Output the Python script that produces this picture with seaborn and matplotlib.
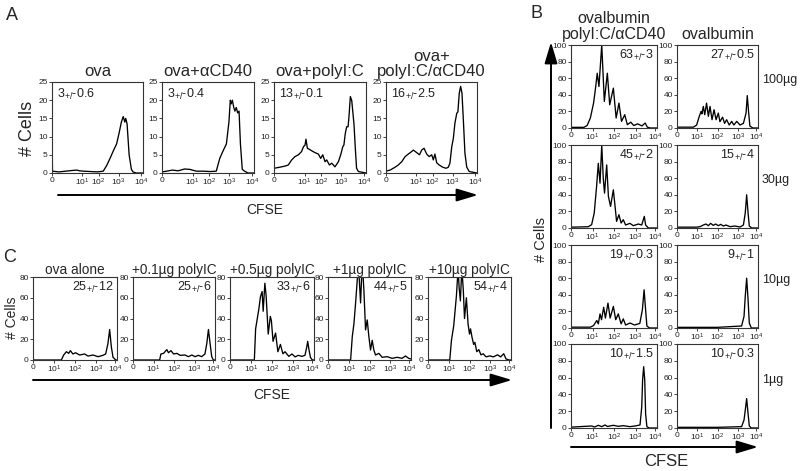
import numpy as np
import matplotlib
matplotlib.use("Agg")
import matplotlib.pyplot as plt
import seaborn as sns

# x values are in display decades (0 .. 4), y = # cells

# panel A
a_titles = ['ova', 'ova+αCD40', 'ova+polyI:C', 'ova+\npolyI:C/αCD40']
a_notes = ['3', '3', '13', '16']
a_errs = ['0.6', '0.4', '0.1', '2.5']
a_ova_x = [0, 0.02, 0.3, 0.6, 0.9, 1.1, 1.2, 1.4, 1.7, 2.0, 2.25, 2.40, 2.55, 2.69, 2.84, 2.95, 3.05, 3.13, 3.2, 3.24, 3.30, 3.39, 3.49, 3.56, 3.7, 4.0]
a_ova_y = [14, 0.5, 0.3, 0.5, 0.7, 0.8, 0.6, 0.5, 0.4, 0.3, 0.5, 2, 4, 6, 8, 11, 14, 15.5, 14, 15, 13.5, 5, 1, 0.3, 0, 0]
a_cd40_x = [0, 0.2, 0.45, 0.7, 0.98, 1.2, 1.5, 1.8, 2.1, 2.36, 2.51, 2.65, 2.80, 2.91, 2.97, 3.01, 3.06, 3.12, 3.17, 3.23, 3.29, 3.35, 3.41, 3.49, 3.59, 3.74, 4.0]
a_cd40_y = [0.3, 0.5, 0.8, 0.6, 1.1, 1.0, 0.5, 0.5, 0.4, 0.5, 4, 6, 8, 14, 20, 19, 20, 18, 17, 18, 16.5, 17, 8, 1, 0.5, 0, 0]
a_pic_x = [0, 0.26, 0.48, 0.62, 0.77, 0.91, 1.06, 1.2, 1.28, 1.35, 1.39, 1.45, 1.54, 1.64, 1.78, 1.93, 2.03, 2.12, 2.22, 2.29,
           2.41, 2.51, 2.65, 2.8, 2.9, 2.99, 3.04, 3.1, 3.16, 3.22, 3.26, 3.32, 3.38, 3.42, 3.48, 3.54, 3.59, 3.67, 4.0]
a_pic_y = [1.3, 1.6, 1.9, 2.2, 3.6, 4.5, 5, 5.9, 7.2, 7.7, 9.3, 6.8, 6.5, 6.1, 5.6, 5.2, 4, 5, 3.1, 3.6,
           2.2, 2.7, 1.7, 3.1, 5, 7.2, 7.7, 10.9, 12.7, 12.7, 15.5, 21, 19.9, 17.3, 13.2, 6.3, 1.3, 0.4, 0]
a_pcd_x = [0, 0.18, 0.40, 0.54, 0.69, 0.84, 0.98, 1.13, 1.2, 1.35, 1.47, 1.57, 1.67, 1.79, 1.9, 2.01, 2.08, 2.15, 2.23, 2.34,
           2.49, 2.64, 2.74, 2.81, 2.89, 2.96, 3.03, 3.11, 3.16, 3.22, 3.28, 3.34, 3.4, 3.47, 3.55, 3.66, 4.0]
a_pcd_y = [0.5, 0.8, 1.6, 2.2, 3.1, 4.5, 5.2, 5.9, 6.3, 5.6, 5, 6.3, 6.8, 5.2, 4.5, 5, 3.6, 5.2, 2.8, 2.2,
           1.6, 1.3, 1.6, 2.7, 7.2, 9.5, 13.7, 16.4, 16.8, 21.9, 23.8, 21.9, 14.6, 5.4, 1.6, 0.4, 0]
a_ticks = [0, 1.33, 2.05, 2.93, 3.93]

# panel C
c_titles = ['ova alone', '+0.1µg polyIC', '+0.5µg polyIC', '+1µg polyIC', '+10µg polyIC']
c_notes = ['25', '25', '33', '44', '54']
c_errs = ['12', '6', '6', '5', '4']
c_ova_x = [0, 1.35, 1.46, 1.59, 1.7, 1.78, 1.9, 2.03, 2.22, 2.46, 2.62, 2.86, 3.1, 3.33, 3.46, 3.57, 3.65, 3.73, 3.81, 3.94, 4.0]
c_ova_y = [0, 0, 4.8, 8, 6.4, 9, 5.8, 7, 4.8, 5.8, 3.8, 4.8, 3.2, 4.5, 5.8, 16, 29.4, 12.8, 2.6, 0, 0]
c_01_x = [0, 1.30, 1.36, 1.49, 1.65, 1.73, 1.85, 1.98, 2.14, 2.3, 2.54, 2.7, 2.87, 3.03, 3.19, 3.35, 3.51, 3.6, 3.68, 3.76, 3.84, 3.92, 4.0]
c_01_y = [0, 0, 5.8, 6.4, 10, 7, 9, 5.8, 6.4, 4.5, 4.8, 3.2, 4.8, 3.2, 4.5, 3.2, 5.8, 16, 29.4, 16, 3.2, 0, 0]
c_05_x = [0, 1.16, 1.22, 1.3, 1.38, 1.45, 1.53, 1.58, 1.66, 1.72, 1.82, 1.92, 1.97, 2.05, 2.17, 2.28, 2.4, 2.52, 2.62, 2.8,
          2.95, 3.1, 3.25, 3.42, 3.57, 3.65, 3.7, 3.76, 3.83, 3.92, 4.0]
c_05_y = [0, 0, 30, 40, 50, 61, 66, 47, 74, 62, 25, 42, 38, 18, 26, 8, 15, 6, 8, 3.5,
          5.8, 3, 4.5, 3.5, 4.5, 12, 18, 10, 2.5, 0, 0]
c_1_x = [0, 1.09, 1.17, 1.25, 1.33, 1.41, 1.46, 1.57, 1.65, 1.73, 1.81, 1.89, 1.97, 2.05, 2.13, 2.21, 2.29, 2.45, 2.61, 2.85, 3.09, 3.33, 3.57, 3.73, 3.89, 4.0]
c_1_y = [0, 0, 22.5, 35, 55, 77, 95, 55, 95, 67, 29, 38.6, 22.5, 9.6, 19, 9.6, 4.8, 6.4, 2.6, 3.2, 1.6, 2.6, 1.6, 3.9, 1.6, 1]
c_10_x = [0, 1.05, 1.13, 1.24, 1.37, 1.45, 1.5, 1.56, 1.63, 1.7, 1.76, 1.85, 1.93, 2.0, 2.05, 2.12, 2.2, 2.26, 2.35, 2.45,
          2.55, 2.66, 2.8, 2.98, 3.15, 3.35, 3.5, 3.65, 3.76, 3.9, 4.0]
c_10_y = [0, 0, 19, 33, 62, 88, 70, 57, 88, 68, 40, 60, 35, 25, 30, 22, 15, 17, 8, 10,
          5, 6, 3, 4, 3, 5, 3, 6, 1, 0, 0]

# panel B (left column polyI:C/αCD40, right column ovalbumin alone)
b_col_titles = ['ovalbumin\npolyI:C/αCD40', 'ovalbumin']
b_doses = ['100µg', '30µg', '10µg', '1µg']
b_notes_a = ['63', '45', '19', '10']
b_errs_a = ['3', '2', '0.3', '1.5']
b_notes_b = ['27', '15', '9', '10']
b_errs_b = ['0.5', '4', '1', '0.3']
b_r1a_x = [0, 0.6, 0.75, 0.9, 1.05, 1.15, 1.22, 1.3, 1.43, 1.55, 1.69, 1.8, 1.97, 2.1, 2.23, 2.35, 2.5, 2.62, 2.78, 2.92, 3.1, 3.3, 3.45, 3.55, 3.7, 4.0]
b_r1a_y = [0.8, 0.8, 3, 12, 30, 50, 66, 50, 100, 32, 66, 28, 48, 12, 30, 8, 16, 4, 7, 3, 5, 2.5, 6, 1, 0, 0]
b_r2a_x = [0, 0.8, 0.96, 1.08, 1.19, 1.27, 1.35, 1.43, 1.5, 1.56, 1.66, 1.74, 1.84, 1.97, 2.05, 2.12, 2.23, 2.33, 2.43, 2.54, 2.74, 2.9, 3.13, 3.29, 3.41, 3.47, 3.6, 4.0]
b_r2a_y = [1, 1.5, 4, 18, 50, 78, 54, 100, 60, 42, 76, 38, 26, 46, 26, 8, 16, 6, 10, 3.6, 5.6, 2.8, 4.8, 3.6, 14, 3.6, 0, 0]
b_r3a_x = [0, 0.9, 1.05, 1.2, 1.27, 1.35, 1.42, 1.52, 1.6, 1.72, 1.82, 1.97, 2.08, 2.2, 2.33, 2.43, 2.54, 2.75, 2.95, 3.2, 3.32, 3.4, 3.47, 3.53, 3.65, 4.0]
b_r3a_y = [1, 1, 3, 9, 5, 17, 10, 25, 12, 30, 12, 26, 10, 17, 5, 11, 3.6, 6, 3.6, 5.5, 22, 46, 22, 2.4, 0, 0]
b_r4a_x = [0, 0.96, 1.1, 1.27, 1.43, 1.58, 1.7, 1.81, 1.97, 2.2, 2.43, 2.74, 2.98, 3.21, 3.29, 3.33, 3.38, 3.43, 3.47, 3.53, 3.63, 4.0]
b_r4a_y = [1, 2.4, 1.2, 3.2, 1.6, 3.6, 1.8, 2.4, 3.2, 2, 2.8, 1.6, 2.4, 3.6, 25, 57, 73, 57, 17, 1.6, 0, 0]
b_r1b_x = [0, 0.81, 0.97, 1.1, 1.19, 1.23, 1.3, 1.37, 1.46, 1.55, 1.63, 1.73, 1.83, 1.93, 2.04, 2.12, 2.25, 2.35, 2.45, 2.58,
           2.7, 2.81, 2.95, 3.11, 3.28, 3.41, 3.47, 3.54, 3.6, 3.74, 4.0]
b_r1b_y = [1, 1, 3.6, 14, 20, 17, 26, 16, 30, 14, 26, 10, 22, 10, 18, 7.6, 13, 5.6, 10, 3.6,
           8, 3.6, 8, 3.6, 5.6, 18, 39, 18, 2.4, 0, 0]
b_r2b_x = [0, 0.97, 1.14, 1.3, 1.43, 1.55, 1.66, 1.79, 1.91, 2.04, 2.16, 2.29, 2.42, 2.62, 2.86, 3.11, 3.28, 3.37, 3.44, 3.51, 3.57, 3.69, 4.0]
b_r2b_y = [1, 1, 1.6, 3.6, 4.8, 2.8, 5.6, 3.2, 4.8, 2.8, 4.4, 2.4, 3.6, 1.6, 2.4, 1.2, 3.6, 18, 40, 18, 2.4, 0, 0]
b_r3b_x = [0, 1.0, 2.0, 3.19, 3.31, 3.37, 3.44, 3.51, 3.57, 3.67, 4.0]
b_r3b_y = [0.8, 0.8, 0.8, 2.4, 14, 38, 60, 34, 6, 0, 0]
b_r4b_x = [0, 1.0, 2.0, 3.19, 3.31, 3.37, 3.44, 3.51, 3.57, 3.67, 4.0]
b_r4b_y = [0.8, 0.8, 0.8, 1.6, 9.5, 21, 35, 17, 2.4, 0, 0]
bc_ticks = [0, 1, 2, 3, 3.9]

x_labels = ['0', '$10^1$', '$10^2$', '$10^3$', '$10^4$']

sns.set_style("ticks")
plt.rcParams['font.family'] = ['Liberation Sans', 'DejaVu Sans']
plt.rcParams['mathtext.default'] = 'regular'

W, H = 800, 471
fig = plt.figure(figsize=(8, 4.71), dpi=100)

# overlay in pixel coords for arrows and loose labels
ov = fig.add_axes([0, 0, 1, 1])
ov.set_xlim(0, W)
ov.set_ylim(H, 0)
ov.axis('off')


def add_box(x0, y0, x1, y1):
    return fig.add_axes([x0 / W, 1 - y1 / H, (x1 - x0) / W, (y1 - y0) / H])


def hist_panel(ax, xs, ys, ymax, ystep, xticks, note, err, left_note=False):
    sns.lineplot(x=xs, y=ys, ax=ax, color='black', linewidth=0.95, sort=False, estimator=None)
    ax.set_xlim(0, 4)
    ax.set_ylim(0, ymax)
    ax.set_yticks(np.arange(0, ymax + 1, ystep))
    ax.set_xticks(xticks)
    ax.set_xticklabels(x_labels)
    ax.set_xlabel('')
    ax.set_ylabel('')
    ax.tick_params(labelsize=6, length=2, width=0.6, pad=1, colors='#222222')
    for s in ax.spines.values():
        s.set_linewidth(0.8)
        s.set_color('#333333')
    txt = note + '$_{+/}$-' + err
    if left_note:
        ax.text(0.05, 0.95, txt, transform=ax.transAxes, ha='left', va='top', fontsize=9, color='#222222')
    else:
        ax.text(0.96, 0.96, txt, transform=ax.transAxes, ha='right', va='top', fontsize=9, color='#222222')


# ---- A ----
a_boxes = [(52, 82, 143, 173), (162, 82, 254, 173), (274, 82, 366, 173), (386, 82, 477, 173)]
a_data = [(a_ova_x, a_ova_y), (a_cd40_x, a_cd40_y), (a_pic_x, a_pic_y), (a_pcd_x, a_pcd_y)]
for i, box in enumerate(a_boxes):
    ax = add_box(*box)
    hist_panel(ax, a_data[i][0], a_data[i][1], 25, 5, a_ticks, a_notes[i], a_errs[i], left_note=True)
    ax.set_title(a_titles[i], fontsize=12, pad=4, linespacing=1.0)

# ---- C ----
c_boxes = [(33, 277, 117, 360), (133, 277, 215, 360), (230, 277, 314, 360), (328, 277, 411, 360), (428, 277, 511, 360)]
c_data = [(c_ova_x, c_ova_y), (c_01_x, c_01_y), (c_05_x, c_05_y), (c_1_x, c_1_y), (c_10_x, c_10_y)]
for i, box in enumerate(c_boxes):
    ax = add_box(*box)
    hist_panel(ax, c_data[i][0], c_data[i][1], 80, 20, bc_ticks, c_notes[i], c_errs[i])
    ax.set_title(c_titles[i], fontsize=9.8, pad=2)

# ---- B ----
b_cols = [(571, 657), (677, 758)]
b_rows = [(45, 128), (145, 228), (245, 328), (344, 428)]
b_data_a = [(b_r1a_x, b_r1a_y), (b_r2a_x, b_r2a_y), (b_r3a_x, b_r3a_y), (b_r4a_x, b_r4a_y)]
b_data_b = [(b_r1b_x, b_r1b_y), (b_r2b_x, b_r2b_y), (b_r3b_x, b_r3b_y), (b_r4b_x, b_r4b_y)]
for r, (y0, y1) in enumerate(b_rows):
    ax = add_box(b_cols[0][0], y0, b_cols[0][1], y1)
    hist_panel(ax, b_data_a[r][0], b_data_a[r][1], 100, 20, bc_ticks, b_notes_a[r], b_errs_a[r])
    if r == 0:
        ax.set_title(b_col_titles[0], fontsize=11.5, pad=4, linespacing=1.1)
    ax = add_box(b_cols[1][0], y0, b_cols[1][1], y1)
    hist_panel(ax, b_data_b[r][0], b_data_b[r][1], 100, 20, bc_ticks, b_notes_b[r], b_errs_b[r])
    if r == 0:
        ax.set_title(b_col_titles[1], fontsize=11.5, pad=4)
    ov.text(762, (y0 + y1) / 2 - 6, b_doses[r], fontsize=9, ha='left', va='center', color='#222222')

# arrows and axis names
arrow = dict(arrowstyle='-|>,head_length=1.0,head_width=0.3', lw=1.4, color='black', mutation_scale=13, shrinkA=0, shrinkB=0)
ov.annotate('', xy=(478, 195), xytext=(58, 195), arrowprops=arrow)
ov.annotate('', xy=(512, 380), xytext=(33, 380), arrowprops=arrow)
ov.annotate('', xy=(758, 447), xytext=(571, 447), arrowprops=arrow)
ov.annotate('', xy=(551, 42), xytext=(551, 428), arrowprops=arrow)

ov.text(265, 210, 'CFSE', fontsize=10, ha='center', va='center')
ov.text(272, 395, 'CFSE', fontsize=10, ha='center', va='center')
ov.text(666, 461, 'CFSE', fontsize=12, ha='center', va='center')
ov.text(28, 128, '# Cells', fontsize=13, rotation=90, ha='center', va='center')
ov.text(12, 318, '# Cells', fontsize=10, rotation=90, ha='center', va='center')
ov.text(541, 240, '# Cells', fontsize=10.5, rotation=90, ha='center', va='center')

ov.text(12, 16, 'A', fontsize=13, ha='center', va='center')
ov.text(537, 13, 'B', fontsize=13, ha='center', va='center')
ov.text(10, 258, 'C', fontsize=13, ha='center', va='center')

fig.savefig('out.png', dpi=100)
